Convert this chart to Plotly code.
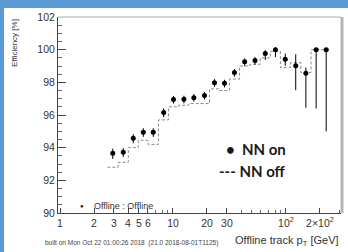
import numpy as np
import plotly.graph_objects as go

# ---------------- data ----------------
pt = [2.93, 3.63, 4.45, 5.46, 6.69, 8.27, 10.1, 12.5, 15.3, 19.0, 23.3,
      28.6, 35.0, 43.1, 53.2, 65.6, 80.7, 98.6, 122, 150, 185, 227]
eff_on = [93.66, 93.72, 94.57, 94.94, 94.94, 96.15, 96.95, 96.96, 97.06, 97.19, 97.98,
          97.94, 98.60, 99.26, 99.34, 99.77, 100.0, 99.41, 99.02, 98.55, 100.0, 100.0]
err_up = [0.28, 0.25, 0.25, 0.25, 0.25, 0.25, 0.22, 0.22, 0.22, 0.22, 0.22,
          0.22, 0.22, 0.2, 0.2, 0.2, 0.15, 0.35, 0.7, 0.35, 0.0, 0.0]
err_dn = [0.35, 0.3, 0.3, 0.28, 0.28, 0.28, 0.25, 0.25, 0.25, 0.25, 0.25,
          0.25, 0.25, 0.25, 0.25, 0.4, 0.45, 0.4, 1.5, 2.1, 3.6, 5.0]
eff_off = [92.8, 93.1, 94.0, 94.45, 94.2, 95.7, 96.5, 96.6, 96.7, 96.7, 97.6,
           97.5, 98.2, 99.0, 99.1, 99.5, 99.9, 98.9, 99.2, 98.6, 100.0, 100.0]

x_tickvals = [1, 2, 3, 4, 5, 6, 10, 20, 30, 100, 200]
x_ticktext = ["1", "2", "3", "4", "5", "6", "10", "20", "30",
              "10<sup>2</sup>", "2×10<sup>2</sup>"]
x_minor = [7, 8, 9, 40, 50, 60, 70, 80, 90, 300]

# ---------------- geometry (image pixel coords) ----------------
OX, OY = 4, 8                 # blue border width (left, top)
W, H = 348, 252
PL, PR, PT, PB = 58, 341, 17, 213   # plot frame in image pixels
pw, ph = PR - PL, PB - PT


def px(x):
    return (x - PL) / pw


def py(y):
    return (PB - y) / ph


# step histogram for NN off (bin edges from geometric midpoints)
le = np.log10(pt)
mids = (le[:-1] + le[1:]) / 2
edges = np.concatenate([[le[0] - (mids[0] - le[0])], mids, [le[-1] + (le[-1] - mids[-1])]])
sx, sy = [], []
for i, v in enumerate(eff_off):
    sx += [10 ** edges[i], 10 ** edges[i + 1]]
    sy += [v, v]

fig = go.Figure()
fig.add_trace(go.Scatter(x=sx, y=sy, mode="lines",
                         line=dict(color="#8a8a8a", width=1, dash="3px,2px"),
                         showlegend=False, hoverinfo="skip"))
fig.add_trace(go.Scatter(
    x=pt, y=eff_on, mode="markers",
    marker=dict(color="black", size=5),
    error_y=dict(type="data", symmetric=False, array=err_up, arrayminus=err_dn,
                 color="black", thickness=1, width=0),
    showlegend=False))

tickfont = dict(family="Liberation Sans, Arial, sans-serif", size=10.5, color="#333")
fig.update_xaxes(type="log", range=[np.log10(0.96), np.log10(307)],
                 tickmode="array", tickvals=x_tickvals, ticktext=x_ticktext,
                 ticks="inside", ticklen=5, tickcolor="#444", tickfont=tickfont,
                 minor=dict(tickmode="array", tickvals=x_minor, ticks="inside",
                            ticklen=3, tickcolor="#666"),
                 showline=True, linecolor="#444", linewidth=1, mirror=False,
                 showgrid=False, zeroline=False)
fig.update_yaxes(range=[90, 102], tickmode="linear", tick0=90, dtick=2,
                 ticks="inside", ticklen=8, tickcolor="#444", tickfont=tickfont,
                 minor=dict(dtick=0.5, ticks="inside", ticklen=4, tickcolor="#666"),
                 showline=True, linecolor="#444", linewidth=1, mirror=False,
                 showgrid=False, zeroline=False)

shapes = [
    dict(type="line", xref="paper", yref="paper", x0=0, x1=1, y0=1, y1=1,
         line=dict(color="#aaaaaa", width=1)),
    dict(type="rect", xref="paper", yref="paper", x0=px(340.5), x1=px(343.5),
         y0=0, y1=py(17), line=dict(width=0), fillcolor="#b5b5b5"),
]

ann_font = "Liberation Sans, Arial, sans-serif"
annotations = [
    dict(text="Efficiency [%]", textangle=-90, x=px(14), y=py(17), xref="paper", yref="paper",
         xanchor="center", yanchor="top", showarrow=False,
         font=dict(family=ann_font, size=8, color="#333")),
    dict(text="Offline track p<sub>T</sub> [GeV]", x=px(341), y=py(241), xref="paper", yref="paper",
         xanchor="right", yanchor="middle", showarrow=False,
         font=dict(family=ann_font, size=11, color="#333")),
    dict(text="built on Mon Oct 22 01:00:26 2018  (21.0 2018-08-01T1125)", x=px(43), y=py(243),
         xref="paper", yref="paper", xanchor="left", yanchor="middle", showarrow=False,
         font=dict(family=ann_font, size=6.5, color="#444")),
    dict(text="●", x=px(82), y=py(206), xref="paper", yref="paper", xanchor="center",
         yanchor="middle", showarrow=False, font=dict(family=ann_font, size=6, color="#111")),
    dict(text="Offline : Offline", x=px(92), y=py(206), xref="paper", yref="paper",
         xanchor="left", yanchor="middle", showarrow=False,
         font=dict(family=ann_font, size=9, color="#333")),
    dict(text="<b>•  NN on</b>", x=px(224), y=py(149), xref="paper", yref="paper",
         xanchor="left", yanchor="middle", showarrow=False,
         font=dict(family="Lato, sans-serif", size=15, color="#1a1a1a")),
    dict(text="<b>--- NN off</b>", x=px(217), y=py(171), xref="paper", yref="paper",
         xanchor="left", yanchor="middle", showarrow=False,
         font=dict(family="Lato, sans-serif", size=15, color="#1a1a1a")),
]

fig.update_layout(width=W, height=H,
                  margin=dict(l=PL, r=W - PR, t=PT, b=H - PB),
                  paper_bgcolor="white", plot_bgcolor="white",
                  shapes=shapes, annotations=annotations, showlegend=False)

# page chrome: no body margin, blue slide border drawn as fixed overlay bands
post = ("document.documentElement.style.background='white';"
        "document.documentElement.style.overflow='hidden';"
        "document.body.style.margin='0px';"
        "document.body.style.overflow='hidden';"
        "function band(l,t,w,h){var b=document.createElement('div');"
        "b.style.cssText='position:fixed;z-index:9999;background:#5b9bd5;left:'+l+'px;top:'+t+'px;width:'+w+'px;height:'+h+'px;';"
        "document.body.appendChild(b);}"
        "band(0,0,%d,%d);band(0,0,%d,%d);" % (W, OY, OX, H))

fig.write_html("out.html", config={"displayModeBar": False}, post_script=post)
